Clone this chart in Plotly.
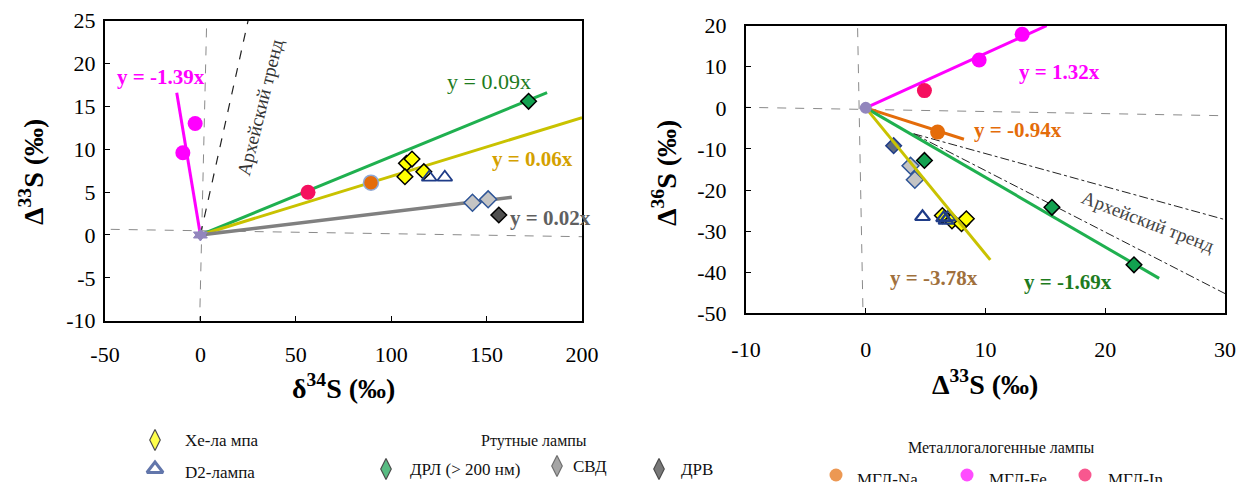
import plotly.graph_objects as go

W, H = 1238, 482
FONT = "Liberation Serif, Times New Roman, serif"

# ---------------- Left panel data: d34S vs D33S ----------------
L_xe_x = [108.0, 110.9, 107.2, 117.1]
L_xe_y = [8.36, 8.86, 6.80, 7.38]
L_d2_x = [119.9, 128.1]
L_d2_y = [6.73, 6.73]
L_drl_x = [172.0]
L_drl_y = [15.6]
L_svd_x = [142.6, 150.8]
L_svd_y = [3.76, 4.16]
L_drv_x = [156.4]
L_drv_y = [2.33]
L_na_x = [89.4]
L_na_y = [6.1]
L_fe_x = [-9.2, -2.75]
L_fe_y = [9.6, 13.0]
L_in_x = [56.4]
L_in_y = [4.98]
L_orig_x = [0.0]
L_orig_y = [0.0]

# fitted / trend lines (endpoints)
L_fe_line_x, L_fe_line_y = [-12.4, 0], [16.6, 0]
L_drl_line_x, L_drl_line_y = [0, 181.7], [0, 16.6]
L_xe_line_x, L_xe_line_y = [0, 200], [0, 13.7]
L_grey_line_x, L_grey_line_y = [0, 163.2], [0, 4.4]
L_arch_x, L_arch_y = [0, 25], [0, 25]
L_hz_x, L_hz_y = [-47, 200], [0.66, -0.2]
L_vt_x, L_vt_y = [3.2, -0.4], [24.1, -10]

L_xticks = [-50, 0, 50, 100, 150, 200]
L_xtext = ["-50", "0", "50", "100", "150", "200"]
L_yticks = [-10, -5, 0, 5, 10, 15, 20, 25]
L_ytext = ["-10", "-5", "0", "5", "10", "15", "20", "25"]

# ---------------- Right panel data: D33S vs D36S ----------------
R_xe_x = [6.4, 7.2, 8.0, 8.4]
R_xe_y = [-26.2, -27.5, -28.2, -27.0]
R_d2_x = [4.74, 6.5, 6.7, 6.9]
R_d2_y = [-26.5, -26.8, -27.4, -26.6]
R_drl_x = [4.9, 15.55, 22.4]
R_drl_y = [-12.8, -24.2, -38.2]
R_svd_x = [3.74, 4.1]
R_svd_y = [-14.1, -17.5]
R_drv_x = [2.33]
R_drv_y = [-9.2]
R_na_x = [6.0]
R_na_y = [-5.9]
R_fe_x = [9.47, 13.06]
R_fe_y = [11.65, 17.9]
R_in_x = [4.9]
R_in_y = [4.2]
R_orig_x = [0.0]
R_orig_y = [0.0]

R_fe_line_x, R_fe_line_y = [0, 15.1], [0, 20]
R_na_line_x, R_na_line_y = [0, 8.2], [0, -7.65]
R_drl_line_x, R_drl_line_y = [0, 24.5], [0, -41.5]
R_xe_line_x, R_xe_line_y = [0, 10.4], [0, -37.0]
R_arch1_x, R_arch1_y = [4, 30], [-6.3, -27.2]
R_arch2_x, R_arch2_y = [4, 30], [-6.3, -45.2]
R_hz_x, R_hz_y = [-10.4, 29.8], [0.15, -1.9]
R_vt_x, R_vt_y = [-0.68, -0.23], [19.4, -50]

R_xticks = [-10, 0, 10, 20, 30]
R_xtext = ["-10", "0", "10", "20", "30"]
R_yticks = [-50, -40, -30, -20, -10, 0, 10, 20]
R_ytext = ["-50", "-40", "-30", "-20", "-10", "0", "10", "20"]

# ---------------- colours ----------------
C_XE = "#ffff00"
C_D2 = "#1f3c88"
C_DRL = "#12a150"
C_SVD = "#c4c4c4"
C_SVD_L = "#808080"
C_DRV = "#505050"
C_NA = "#e46c0a"
C_FE = "#ff00ff"
C_IN = "#f5105f"
C_ORIG = "#9286bd"
C_GLINE = "#1fb04f"
C_OLIVE = "#c9c200"
C_GREY = "#808080"

fig = go.Figure()


def line(x, y, color, width, dash="solid", xa="x", ya="y"):
    fig.add_trace(go.Scatter(x=x, y=y, mode="lines", xaxis=xa, yaxis=ya,
                             line=dict(color=color, width=width, dash=dash),
                             hoverinfo="skip", showlegend=False))


def pts(x, y, symbol, size, fill, lc, lw, xa="x", ya="y"):
    fig.add_trace(go.Scatter(x=x, y=y, mode="markers", xaxis=xa, yaxis=ya,
                             marker=dict(symbol=symbol, size=size, color=fill,
                                         line=dict(color=lc, width=lw)),
                             showlegend=False))


# ---- left panel ----
line(L_hz_x, L_hz_y, "#8a8a8a", 1, "dash")
line(L_vt_x, L_vt_y, "#8a8a8a", 1, "dash")
line(L_arch_x, L_arch_y, "#222222", 1.2, "dash")
line(L_fe_line_x, L_fe_line_y, C_FE, 3)
line(L_drl_line_x, L_drl_line_y, C_GLINE, 3)
line(L_xe_line_x, L_xe_line_y, C_OLIVE, 3)
line(L_grey_line_x, L_grey_line_y, C_GREY, 3.5)
pts(L_orig_x, L_orig_y, "triangle-down", 12, C_ORIG, C_ORIG, 1)
pts(L_orig_x, L_orig_y, "triangle-up", 12, C_ORIG, C_ORIG, 1)
pts(L_fe_x, L_fe_y, "circle", 15, C_FE, C_FE, 0)
pts(L_in_x, L_in_y, "circle", 15, C_IN, C_IN, 0)
pts(L_na_x, L_na_y, "circle", 15, C_NA, "#8fa9d6", 1.5)
pts(L_xe_x, L_xe_y, "diamond", 12, C_XE, "#000000", 1.5)
pts(L_d2_x, L_d2_y, "triangle-up-open", 13, C_D2, C_D2, 1.8)
pts(L_svd_x, L_svd_y, "diamond", 13, C_SVD, "#2f5597", 1.5)
pts(L_drv_x, L_drv_y, "diamond", 12, C_DRV, "#000000", 1.5)
pts(L_drl_x, L_drl_y, "diamond", 12, C_DRL, "#000000", 1.5)

# ---- right panel ----
line(R_hz_x, R_hz_y, "#8a8a8a", 1, "dash", "x2", "y2")
line(R_vt_x, R_vt_y, "#8a8a8a", 1, "dash", "x2", "y2")
line(R_arch1_x, R_arch1_y, "#222222", 1, "dashdot", "x2", "y2")
line(R_arch2_x, R_arch2_y, "#222222", 1, "dashdot", "x2", "y2")
line(R_fe_line_x, R_fe_line_y, C_FE, 3, xa="x2", ya="y2")
line(R_na_line_x, R_na_line_y, C_NA, 3, xa="x2", ya="y2")
line(R_drl_line_x, R_drl_line_y, C_GLINE, 3, xa="x2", ya="y2")
pts(R_svd_x, R_svd_y, "diamond", 13, C_SVD, "#2f5597", 1.5, "x2", "y2")
pts(R_drv_x, R_drv_y, "diamond", 12, "#5f6b80", C_D2, 1.5, "x2", "y2")
pts(R_xe_x, R_xe_y, "diamond", 12, C_XE, "#000000", 1.5, "x2", "y2")
pts(R_d2_x, R_d2_y, "triangle-up-open", 13, C_D2, C_D2, 2.2, "x2", "y2")
line(R_xe_line_x, R_xe_line_y, C_OLIVE, 3, xa="x2", ya="y2")
pts(R_drl_x, R_drl_y, "diamond", 12, C_DRL, "#000000", 1.5, "x2", "y2")
pts(R_orig_x, R_orig_y, "circle", 12, C_ORIG, C_ORIG, 0, "x2", "y2")
pts(R_fe_x, R_fe_y, "circle", 15, C_FE, C_FE, 0, "x2", "y2")
pts(R_in_x, R_in_y, "circle", 15, C_IN, C_IN, 0, "x2", "y2")
pts(R_na_x, R_na_y, "circle", 15, C_NA, C_NA, 0, "x2", "y2")

# ---- manual legend (pixel-space overlay axis) ----
LEG_sym_x = [155, 155, 386, 557, 659, 836, 967, 1085]
LEG_sym_y = [440, 469, 469, 466, 469, 475, 475, 475]
LEG_symbols = ["diamond-tall", "triangle-up-open", "diamond-tall", "diamond-tall",
               "diamond-tall", "circle", "circle", "circle"]
LEG_fill = [C_XE, C_D2, C_DRL, C_SVD_L, "#404040", C_NA, C_FE, C_IN]
LEG_line = ["#000000", "#2f5597", "#000000", "#333333", "#000000", C_NA, C_FE, C_IN]
LEG_size = [15, 14, 15, 15, 15, 13, 13, 13]
LEG_lw = [1.2, 3, 1.2, 1.2, 1.2, 0, 0, 0]
LEG_text = ["Хе-ла мпа", "D2-лампа", "ДРЛ (> 200 нм)", "СВД", "ДРВ", "МГЛ-Na", "МГЛ-Fe", "МГЛ-In"]
LEG_text_x = [183, 183, 408, 571, 679, 855, 987, 1106]
LEG_text_y = [440, 472, 469, 466, 469, 479, 479, 479]

fig.add_trace(go.Scatter(x=LEG_sym_x, y=LEG_sym_y, mode="markers", xaxis="x3", yaxis="y3",
                         marker=dict(symbol=LEG_symbols, size=LEG_size, color=LEG_fill,
                                     line=dict(color=LEG_line, width=LEG_lw)),
                         hoverinfo="skip", showlegend=False))

ann = []
for t, x, y in zip(LEG_text, LEG_text_x, LEG_text_y):
    ann.append(dict(text=t, x=x, y=y, xref="x3", yref="y3", xanchor="left", yanchor="middle",
                    showarrow=False, font=dict(family=FONT, size=17, color="#111111")))
ann.append(dict(text="Ртутные лампы", x=534, y=441, xref="x3", yref="y3", showarrow=False,
                xanchor="center", yanchor="middle",
                font=dict(family=FONT, size=16, color="#111111")))
ann.append(dict(text="Металлогалогенные лампы", x=1001, y=447, xref="x3", yref="y3",
                xanchor="center", yanchor="middle",
                showarrow=False, font=dict(family=FONT, size=16, color="#111111")))

# ---- in-plot text ----
def txt(t, x, y, color, xa, ya, bold=True, size=21, angle=0):
    ann.append(dict(text=("<b>%s</b>" % t) if bold else t, x=x, y=y, xref=xa, yref=ya,
                    showarrow=False, textangle=angle, xanchor="center", yanchor="middle",
                    font=dict(family=FONT, size=size, color=color)))

txt("y = -1.39x", -20.8, 18.4, C_FE, "x", "y")
txt("y = 0.09x", 151, 17.9, "#1e7b1e", "x", "y", bold=False, size=22)
txt("y = 0.06x", 173.8, 8.83, "#d4a100", "x", "y")
txt("y = 0.02x", 183.7, 1.94, "#606060", "x", "y")
txt("Архейский тренд", 31.2, 14.9, "#333333", "x", "y", bold=False, size=19, angle=-76)

txt("y = 1.32x", 16.19, 8.81, C_FE, "x2", "y2")
txt("y = -0.94x", 12.71, -5.38, C_NA, "x2", "y2")
txt("y = -3.78x", 5.73, -41.46, "#a0703c", "x2", "y2")
txt("y = -1.69x", 16.86, -42.3, "#1e7b1e", "x2", "y2")
txt("Архейский тренд", 23.55, -27.7, "#444444", "x2", "y2", bold=False, size=19, angle=21)

# axis titles
def ptitle(t, px, py, angle=0):
    ann.append(dict(text=t, x=px / W, y=1 - py / H, xref="paper", yref="paper",
                    xanchor="center", yanchor="middle",
                    showarrow=False, textangle=angle,
                    font=dict(family=FONT, size=28, color="#000000")))

ptitle("<b>Δ<sup>33</sup>S (‰)</b>", 31, 172, -90)
ptitle("<b>δ<sup>34</sup>S (‰)</b>", 343, 386)
ptitle("<b>Δ<sup>36</sup>S (‰)</b>", 664, 173, -90)
ptitle("<b>Δ<sup>33</sup>S (‰)</b>", 985, 382)

axis_common = dict(showgrid=False, zeroline=False, showline=True, linecolor="#000000",
                   linewidth=2, mirror=True, ticks="inside", ticklen=5, tickcolor="#000000",
                   tickfont=dict(family=FONT, size=22, color="#000000"), fixedrange=True,
                   automargin=False)

fig.update_layout(
    template="none",
    width=W, height=H,
    margin=dict(l=0, r=0, t=0, b=0, pad=0),
    paper_bgcolor="white", plot_bgcolor="rgba(0,0,0,0)",
    font=dict(family=FONT, size=16, color="#000000"),
    showlegend=False,
    annotations=ann,
    xaxis=dict(domain=[105 / W, 582 / W], range=[-50, 200], tickvals=L_xticks,
               ticktext=L_xtext, anchor="y", ticklabelstandoff=13, **axis_common),
    yaxis=dict(domain=[1 - 320.7 / H, 1 - 20.7 / H], range=[-10, 25], tickvals=L_yticks,
               ticktext=L_ytext, anchor="x", ticklabelstandoff=3, **axis_common),
    xaxis2=dict(domain=[746 / W, 1225 / W], range=[-10, 30], tickvals=R_xticks,
                ticktext=R_xtext, anchor="y2", ticklabelstandoff=15, **axis_common),
    yaxis2=dict(domain=[1 - 313.3 / H, 1 - 25.7 / H], range=[-50, 20], tickvals=R_yticks,
                ticktext=R_ytext, anchor="x2", ticklabelstandoff=13, **axis_common),
    xaxis3=dict(domain=[0, 1], range=[0, W], visible=False, anchor="y3", fixedrange=True,
                automargin=False),
    yaxis3=dict(domain=[0, 1], range=[H, 0], visible=False, anchor="x3", fixedrange=True,
                automargin=False),
)

fig.write_html("out.html", config={"displayModeBar": False},
               post_script="document.body.style.margin='0';document.body.style.overflow='hidden';")
